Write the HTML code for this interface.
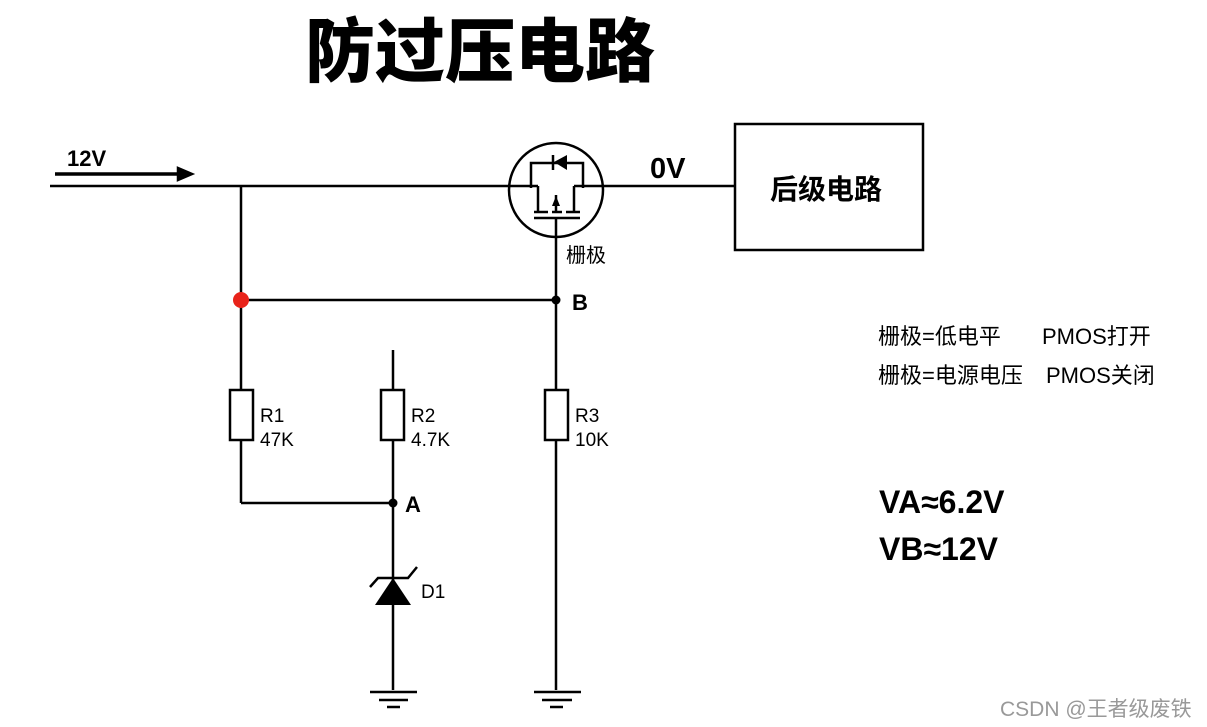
<!DOCTYPE html>
<html><head><meta charset="utf-8"><style>
body{margin:0;background:#fff;width:1207px;height:727px;overflow:hidden}
svg{display:block}
text{font-family:"Liberation Sans","Noto Sans CJK SC",sans-serif}
</style></head><body>
<svg width="1207" height="727" viewBox="0 0 1207 727">
<text x="305" y="76" font-size="70" font-weight="900" fill="#000" font-family="Noto Sans CJK SC,sans-serif">防过压电路</text>
<g stroke="#000" stroke-width="2.5" fill="none">
<line x1="50" y1="186" x2="510" y2="186"/>
<line x1="602" y1="186" x2="735" y2="186"/>
<line x1="55" y1="174" x2="180" y2="174" stroke-width="3.5"/>
<polygon points="178,168 192,174 178,180" fill="#000"/>
<rect x="735" y="124" width="188" height="126"/>
<circle cx="556" cy="190" r="47"/>
<polyline points="531,188 531,163 583,163 583,188"/>
<polygon points="567,155 567,170 554,162" fill="#000" stroke="none"/>
<line x1="553" y1="155" x2="553" y2="170"/>
<line x1="510" y1="186" x2="538" y2="186"/>
<line x1="574" y1="186" x2="602" y2="186"/>
<line x1="538" y1="186" x2="538" y2="212"/>
<line x1="574" y1="186" x2="574" y2="212"/>
<line x1="534" y1="212" x2="548" y2="212"/>
<line x1="552" y1="212" x2="562" y2="212"/>
<line x1="566" y1="212" x2="580" y2="212"/>
<line x1="534" y1="218" x2="580" y2="218"/>
<line x1="556" y1="195" x2="556" y2="212"/>
<polygon points="556,196 552,206 560,206" fill="#000" stroke="none"/>
<line x1="556" y1="218" x2="556" y2="690"/>
<line x1="241" y1="186" x2="241" y2="390"/>
<line x1="241" y1="440" x2="241" y2="503"/>
<line x1="241" y1="503" x2="393" y2="503"/>
<line x1="241" y1="300" x2="556" y2="300"/>
<rect x="230" y="390" width="23" height="50"/>
<line x1="393" y1="350" x2="393" y2="390"/>
<rect x="381" y="390" width="23" height="50"/>
<line x1="393" y1="440" x2="393" y2="690"/>
<rect x="545" y="390" width="23" height="50" fill="#fff"/>
<polygon points="393,578 375,605 411,605" fill="#000" stroke="none"/>
<polyline points="370,587 378,578 408,578 417,567"/>
<line x1="370" y1="692" x2="417" y2="692"/>
<line x1="379" y1="700" x2="408" y2="700"/>
<line x1="387" y1="707" x2="400" y2="707"/>
<line x1="534" y1="692" x2="581" y2="692"/>
<line x1="542" y1="700" x2="572" y2="700"/>
<line x1="550" y1="707" x2="563" y2="707"/>
</g>
<circle cx="241" cy="300" r="8" fill="#e8231a"/>
<circle cx="556" cy="300" r="4.5" fill="#000"/>
<circle cx="393" cy="503" r="4.5" fill="#000"/>
<g fill="#000">
<text x="67" y="166" font-size="22" font-weight="bold">12V</text>
<text x="650" y="178" font-size="29" font-weight="bold">0V</text>
<text x="770" y="199" font-size="28" font-weight="bold">后级电路</text>
<text x="566" y="262" font-size="20">栅极</text>
<text x="572" y="310" font-size="22" font-weight="bold">B</text>
<text x="405" y="512" font-size="22" font-weight="bold">A</text>
<text x="260" y="422" font-size="19">R1</text><text x="260" y="446" font-size="19">47K</text>
<text x="411" y="422" font-size="19">R2</text><text x="411" y="446" font-size="19">4.7K</text>
<text x="575" y="422" font-size="19">R3</text><text x="575" y="446" font-size="19">10K</text>
<text x="421" y="598" font-size="19">D1</text>
<text x="878" y="344" font-size="22">栅极=低电平</text>
<text x="1042" y="344" font-size="22">PMOS打开</text>
<text x="878" y="383" font-size="22">栅极=电源电压</text>
<text x="1046" y="383" font-size="22">PMOS关闭</text>
<text x="879" y="513" font-size="32" font-weight="bold">VA≈6.2V</text>
<text x="879" y="560" font-size="32" font-weight="bold">VB≈12V</text>
<text x="1000" y="716" font-size="21" fill="#999">CSDN @王者级废铁</text>
</g>
</svg>
</body></html>
